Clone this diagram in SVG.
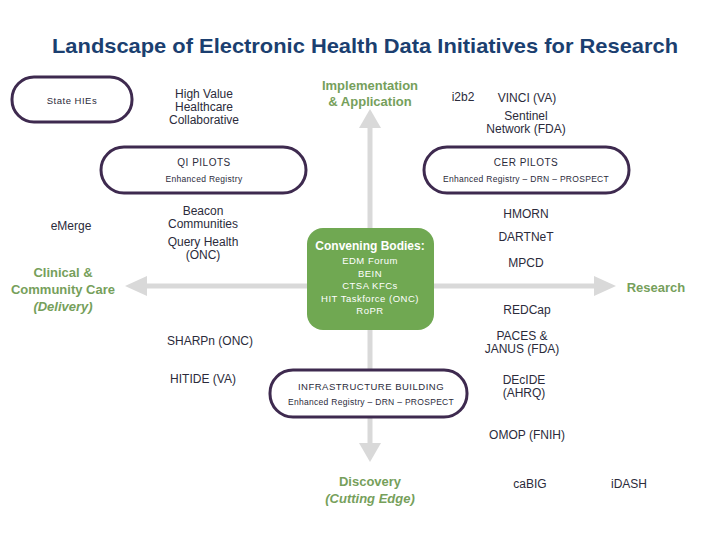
<svg xmlns="http://www.w3.org/2000/svg" width="720" height="540" viewBox="0 0 720 540">
<style>
text{font-family:"Liberation Sans",Arial,sans-serif;fill:#2b2b3b;text-anchor:middle}
.t{font-size:12px}
.s{font-size:10px;letter-spacing:0.5px}
.xs{font-size:8.5px;letter-spacing:0.3px}
.g{fill:#76a05b;font-weight:bold;font-size:13px}
.w{fill:#ffffff}
.pill{fill:#ffffff;stroke:#3e2a4f;stroke-width:3}
.ax{stroke:#d9d9d9;stroke-width:5;fill:none}
.ah{fill:#d9d9d9}
</style>
<rect width="720" height="540" fill="#ffffff"/>
<text x="365" y="53" textLength="626" lengthAdjust="spacingAndGlyphs" style="font-size:20.5px;font-weight:bold;fill:#1b3f70">Landscape of Electronic Health Data Initiatives for Research</text>
<g id="connectors">
<line class="ax" x1="370" y1="126" x2="370" y2="445"/>
<polygon class="ah" points="370,109 359,128 381,128"/>
<polygon class="ah" points="370,462 359,443 381,443"/>
<line class="ax" x1="146" y1="286" x2="596" y2="286"/>
<polygon class="ah" points="125,286 147,276 147,296"/>
<polygon class="ah" points="616,286 594,276 594,296"/>
</g>
<g id="state-hies"><rect class="pill" x="12" y="77" width="120" height="45" rx="22"/><text class="s" x="72" y="104" style="font-size:9.5px">State HIEs</text></g>
<g id="hvhc"><text class="t" x="204" y="98">High Value</text><text class="t" x="204" y="111">Healthcare</text><text class="t" x="204" y="124">Collaborative</text></g>
<g id="impl"><text class="g" x="370" y="90">Implementation</text><text class="g" x="370" y="106">&amp; Application</text></g>
<g id="i2b2"><text class="t" x="463" y="101">i2b2</text></g>
<g id="vinci"><text class="t" x="527" y="102">VINCI (VA)</text></g>
<g id="sentinel"><text class="t" x="526" y="120">Sentinel</text><text class="t" x="526" y="133">Network (FDA)</text></g>
<g id="qi-pilots"><rect class="pill" x="101" y="147" width="205" height="46" rx="23"/><text class="s" x="204" y="166">QI PILOTS</text><text class="xs" x="204" y="182">Enhanced Registry</text></g>
<g id="cer-pilots"><rect class="pill" x="424" y="147" width="205" height="46" rx="23"/><text class="s" x="526" y="166">CER PILOTS</text><text class="xs" x="526" y="182">Enhanced Registry – DRN – PROSPECT</text></g>
<g id="emerge"><text class="t" x="71" y="230">eMerge</text></g>
<g id="beacon"><text class="t" x="203" y="215">Beacon</text><text class="t" x="203" y="228">Communities</text></g>
<g id="query-health"><text class="t" x="203" y="246">Query Health</text><text class="t" x="203" y="259">(ONC)</text></g>
<g id="clinical"><text class="g" x="63" y="277">Clinical &amp;</text><text class="g" x="63" y="294">Community Care</text><text class="g" x="63" y="311" style="font-style:italic">(Delivery)</text></g>
<g id="convening"><rect x="307" y="228" width="127" height="102" rx="16" fill="#70a852"/><text class="w" x="370" y="250" style="font-size:12px;font-weight:bold">Convening Bodies:</text><text class="w s" x="370" y="264" style="font-size:9.5px">EDM Forum</text><text class="w s" x="370" y="277" style="font-size:9.5px">BEIN</text><text class="w s" x="370" y="289" style="font-size:9.5px">CTSA KFCs</text><text class="w s" x="370" y="302" style="font-size:9.5px">HIT Taskforce (ONC)</text><text class="w s" x="370" y="314" style="font-size:9.5px">RoPR</text></g>
<g id="hmorn"><text class="t" x="526" y="218">HMORN</text></g>
<g id="dartnet"><text class="t" x="526" y="241">DARTNeT</text></g>
<g id="mpcd"><text class="t" x="526" y="267">MPCD</text></g>
<g id="research"><text class="g" x="656" y="292">Research</text></g>
<g id="redcap"><text class="t" x="527" y="314">REDCap</text></g>
<g id="paces"><text class="t" x="522" y="340">PACES &amp;</text><text class="t" x="522" y="353">JANUS (FDA)</text></g>
<g id="decide"><text class="t" x="524" y="384">DEcIDE</text><text class="t" x="524" y="397">(AHRQ)</text></g>
<g id="sharpn"><text class="t" x="210" y="345">SHARPn (ONC)</text></g>
<g id="hitide"><text class="t" x="203" y="383">HITIDE (VA)</text></g>
<g id="infra"><rect class="pill" x="270" y="370" width="197" height="47" rx="23"/><text class="s" x="371" y="390" style="font-size:9.5px">INFRASTRUCTURE BUILDING</text><text class="xs" x="371" y="405">Enhanced Registry – DRN – PROSPECT</text></g>
<g id="omop"><text class="t" x="527" y="439">OMOP (FNIH)</text></g>
<g id="discovery"><text class="g" x="370" y="486">Discovery</text><text class="g" x="370" y="503" style="font-style:italic">(Cutting Edge)</text></g>
<g id="cabig"><text class="t" x="530" y="488">caBIG</text></g>
<g id="idash"><text class="t" x="629" y="488">iDASH</text></g>
</svg>
